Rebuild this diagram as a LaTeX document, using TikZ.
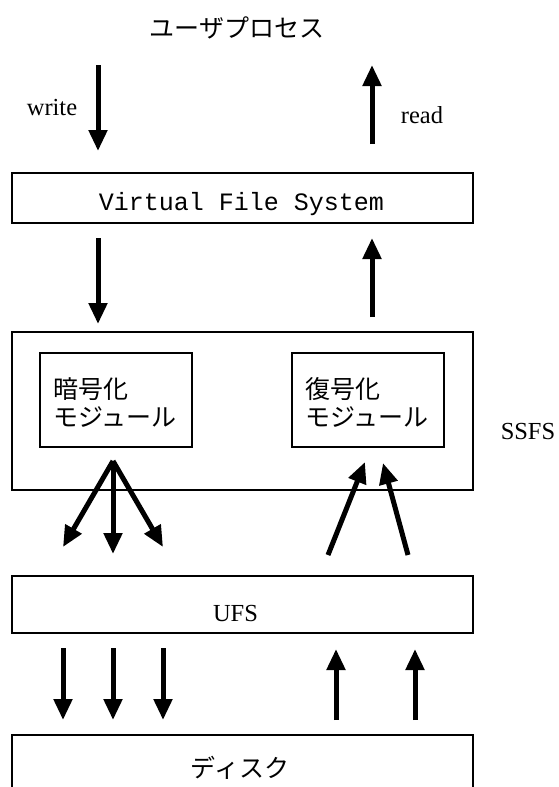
\documentclass[tikz,border=0pt]{standalone}
\usepackage{fontspec}
\setmainfont{Liberation Serif}
\setmonofont{Liberation Mono}
\newfontfamily\jpfont{Noto Sans CJK JP}
\usetikzlibrary{arrows.meta}

\begin{document}
\begin{tikzpicture}[x=1pt,y=-1pt,
  box/.style={draw, line width=1.1pt, inner sep=0pt, minimum width=#1},
  box/.default=461pt,
  flow/.style={line width=5pt, -{Triangle[length=21pt,width=18pt]}},
  lbl/.style={font=\fontsize{24.5}{28}\selectfont, inner sep=0pt, anchor=base},
  mono/.style={font=\ttfamily\fontsize{25}{28}\selectfont, inner sep=0pt, anchor=base},
  jp/.style={font=\jpfont\fontsize{25}{28}\selectfont, inner sep=0pt, anchor=base},
  jpl/.style={jp, anchor=base west}
]
\clip (0,0) rectangle (558,787);

% layers
\node[box, minimum height=50pt]  (vfs)  at (242.5,198) {};
\node[box, minimum height=158pt] (ssfs) at (242.5,411) {};
\node[box=152pt, minimum height=94pt] (enc) at (116,400) {};
\node[box=152pt, minimum height=94pt] (dec) at (368,400) {};
\node[box, minimum height=57pt]  (ufs)  at (242.5,604.5) {};
\node[box, minimum height=80pt]  (disk) at (242.5,775) {};

% labels
\node[jp]   (user)    at (237,37)  {ユーザプロセス};
\node[lbl]  (writel)  at (52,115)  {write};
\node[lbl]  (readl)   at (422,123) {read};
\node[mono] (vfsl)    at (241.5,210) {Virtual File System};
\node[jpl]  (enc1)    at (53.5,398) {暗号化};
\node[jpl]  (enc2)    at (53.5,426) {モジュール};
\node[jpl]  (dec1)    at (305.5,398) {復号化};
\node[jpl]  (dec2)    at (305.5,426) {モジュール};
\node[lbl]  (ssfsl)   at (528,439) {SSFS};
\node[lbl]  (ufsl)    at (235.5,621) {UFS};
\node[jp]   (diskl)   at (240,777.5) {ディスク};

% arrow end points
\coordinate (w1a) at (98,65);   \coordinate (w1b) at (98,151);
\coordinate (r1a) at (372,144); \coordinate (r1b) at (372,65);
\coordinate (w2a) at (98,238);  \coordinate (w2b) at (98,324);
\coordinate (r2a) at (372,317); \coordinate (r2b) at (372,238);
\coordinate (fan) at (113,461);
\coordinate (f1) at (63,547);   \coordinate (f2) at (113,554);  \coordinate (f3) at (163,547);
\coordinate (u1a) at (328,555); \coordinate (u1b) at (365,462);
\coordinate (u2a) at (408,555); \coordinate (u2b) at (383,463);
\coordinate (d1a) at (63,648);  \coordinate (d1b) at (63,720);
\coordinate (d2a) at (113,648); \coordinate (d2b) at (113,720);
\coordinate (d3a) at (163,648); \coordinate (d3b) at (163,720);
\coordinate (p1a) at (336,720); \coordinate (p1b) at (336,649);
\coordinate (p2a) at (415,720); \coordinate (p2b) at (415,649);

% data flow
\draw[flow] (w1a) -- (w1b);
\draw[flow] (r1a) -- (r1b);
\draw[flow] (w2a) -- (w2b);
\draw[flow] (r2a) -- (r2b);
\draw[flow] (fan) -- (f1);
\draw[flow] (fan) -- (f2);
\draw[flow] (fan) -- (f3);
\draw[flow] (u1a) -- (u1b);
\draw[flow] (u2a) -- (u2b);
\draw[flow] (d1a) -- (d1b);
\draw[flow] (d2a) -- (d2b);
\draw[flow] (d3a) -- (d3b);
\draw[flow] (p1a) -- (p1b);
\draw[flow] (p2a) -- (p2b);
\end{tikzpicture}
\end{document}
